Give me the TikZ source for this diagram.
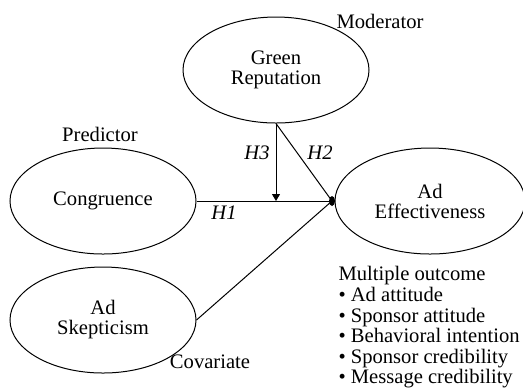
\documentclass[tikz,border=0pt]{standalone}
\usepackage{fontspec}
\setmainfont{Liberation Serif}
\usetikzlibrary{positioning,arrows.meta,shapes.geometric}

\tikzset{
  construct/.style={ellipse, draw, line width=0.5pt, minimum width=93pt, minimum height=53pt, align=center, inner sep=0pt},
  hyp/.style={font=\fontsize{10.3}{10.5}\selectfont\itshape},
  role/.style={inner sep=0pt}
}

\begin{document}
\begin{tikzpicture}[x=0.5pt, y=-0.5pt, font=\fontsize{10.3}{10}\selectfont, line width=0.5pt,
    >={Triangle[length=3.5pt,width=4pt]}]
  \useasboundingbox (0,0) rectangle (523,388);
  % constructs
  \node[construct] (green) at (276,70) {Green\\Reputation};
  \node[construct] (cong) at (103,201) {Congruence};
  \node[construct, minimum width=95pt] (eff) at (430,201) {Ad\\Effectiveness};
  \node[construct] (skep) at (103,320) {Ad\\Skepticism};
  % junction dot
  \node[ellipse, fill=black, minimum width=3pt, minimum height=5pt, inner sep=0pt] (jn) at (332,201) {};
  % roles
  \node[role] (mod) at (380,21) {Moderator};
  \node[role] (pred) at (100,134) {Predictor};
  \node[role] (cov) at (210,362) {Covariate};
  \node[role, anchor=north west, align=left, font=\fontsize{10.3}{10.3}\selectfont] (out) at (338,266)
    {Multiple outcome\\
     • Ad attitude\\
     • Sponsor attitude\\
     • Behavioral intention\\
     • Sponsor credibility\\
     • Message credibility};
  % paths
  \coordinate (h3end) at (green.south |- cong.east);
  \draw (cong.east) -- (jn.center);
  \draw[->] (green.south) -- (h3end);
  \draw (green.south) -- (jn.center);
  \draw (skep.east) -- (jn.center);
  % hypotheses
  \node[hyp] (hone) at (224,213) {H1};
  \node[hyp] (htwo) at (320,153) {H2};
  \node[hyp] (hthree) at (257,153) {H3};
\end{tikzpicture}
\end{document}
